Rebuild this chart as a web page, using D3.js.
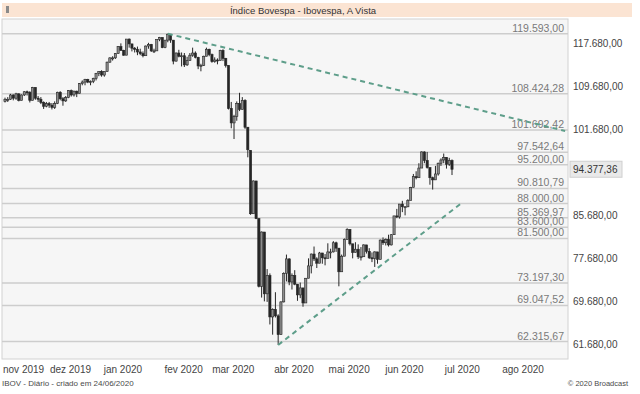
<!DOCTYPE html>
<html>
<head>
<meta charset="utf-8">
<script src="https://cdn.jsdelivr.net/npm/d3@7"></script>
<style>
  body { margin: 0; background: #ffffff; }
  text { font-family: "Liberation Sans", Arial, sans-serif; }
</style>
</head>
<body>
<svg id="chart" width="640" height="394"></svg>
<script>
// texts
var chartTitle = "Índice Bovespa - Ibovespa, A Vista";
var footerLeft = "IBOV - Diário - criado em 24/06/2020";
var footerRight = "© 2020 Broadcast";

// calendar of the axis (B3 trading days)
var firstDay = "2019-10-24";
var lastAxisDay = "2020-08-31";
var holidays = ["2019-11-15", "2019-11-20", "2019-12-24", "2019-12-25", "2019-12-31",
  "2020-01-01", "2020-02-24", "2020-02-25", "2020-04-10", "2020-04-21",
  "2020-05-01", "2020-06-11", "2020-07-09"];
var monthLabels = ["nov 2019", "dez 2019", "jan 2020", "fev 2020", "mar 2020",
  "abr 2020", "mai 2020", "jun 2020", "jul 2020", "ago 2020"];

// daily candles, thousands of points (24/10/2019 .. 24/06/2020)
var candleOpen = [107.0,107.4,107.4,108.2,107.6,108.4,107.2,108.2,108.8,108.7,107.2,109.6,107.6,107.4,106.8,106.1,106.6,106.3,105.9,106.6,
  108.7,107.5,107.1,107.7,109.0,108.2,108.9,108.5,110.3,110.6,111.1,110.6,110.7,111.3,112.2,112.6,111.9,112.6,114.3,115.1,
  115.1,115.9,117.2,116.5,115.6,118.6,117.7,116.9,116.7,116.2,115.9,115.5,117.3,117.6,116.4,116.4,118.5,118.9,117.0,118.4,
  119.5,118.4,114.5,116.0,115.4,115.5,113.8,114.6,115.6,116.0,115.2,113.6,113.7,115.4,116.7,115.7,114.4,114.7,114.6,116.5,
  115.0,113.7,105.7,103.0,104.2,106.6,105.5,107.2,102.2,97.9,86.1,92.2,85.2,72.6,82.7,71.2,74.6,66.9,68.3,67.1,
  63.6,69.7,75.0,77.7,73.4,74.6,73.0,71.0,72.3,69.5,74.1,76.4,78.6,77.7,76.9,78.8,77.9,77.8,79.0,79.0,
  80.7,79.7,75.3,78.2,81.3,83.2,80.5,78.9,79.5,78.1,78.1,80.3,79.1,77.9,77.8,79.0,77.6,81.2,80.7,81.3,
  80.3,82.2,85.7,85.5,87.9,87.4,87.4,88.6,91.0,93.0,92.8,94.6,97.6,96.0,94.7,92.8,92.4,93.5,95.5,96.1,
  96.6,95.3,96.0];
var candleHigh = [107.7,107.8,108.4,108.3,108.6,108.5,108.3,108.9,109.0,108.9,109.7,109.6,108.0,107.8,107.0,106.9,106.9,106.7,107.0,108.8,
  108.9,107.8,108.0,109.1,109.2,109.0,109.0,110.4,110.9,111.2,111.2,110.9,111.4,112.3,112.6,112.8,112.6,114.4,115.2,115.4,
  116.0,117.3,117.8,116.6,118.6,118.7,117.7,117.1,117.2,116.8,116.3,117.4,117.9,117.7,116.8,118.5,119.0,118.9,118.4,119.6,
  119.5,118.4,116.1,116.6,116.1,116.0,115.3,116.0,117.0,116.3,115.3,114.0,115.5,117.0,116.8,115.9,115.2,115.0,116.6,116.7,
  115.1,113.7,106.9,104.5,107.0,108.6,107.8,107.4,102.2,97.9,92.3,92.2,85.2,82.8,82.7,75.8,75.0,68.5,71.5,67.4,
  69.8,75.2,78.5,77.8,75.0,75.6,73.0,73.3,72.3,74.1,77.8,78.7,80.0,78.0,79.0,78.8,78.6,80.6,79.6,81.0,
  80.9,79.7,78.5,81.5,83.4,83.2,80.5,80.8,80.4,79.9,80.4,80.3,79.7,78.9,79.1,79.0,81.3,81.7,81.5,82.2,
  82.3,85.7,87.0,87.9,88.5,87.5,88.8,91.1,93.5,94.0,95.5,97.7,97.7,97.6,94.7,93.0,95.0,95.6,96.4,97.3,
  96.6,96.5,96.2];
var candleLow = [106.8,106.9,107.3,107.2,107.3,107.0,107.2,108.0,108.1,106.8,107.2,107.3,106.9,106.5,105.6,105.9,105.8,105.5,105.6,106.5,
  107.2,106.2,106.9,107.6,107.9,107.9,107.8,108.5,110.0,110.0,110.4,110.0,110.4,110.9,111.7,111.6,111.6,112.5,114.2,114.6,
  114.9,115.9,116.4,115.5,115.6,117.0,116.3,116.1,115.6,115.6,115.2,115.5,116.8,116.2,116.0,116.4,118.2,116.9,116.9,118.0,
  117.9,113.9,114.4,115.2,113.5,113.4,113.6,114.6,115.3,115.0,113.0,112.6,113.6,115.4,115.4,114.2,114.2,113.9,114.6,114.5,
  113.3,105.5,102.0,100.0,103.4,105.2,105.5,101.9,96.6,85.9,86.1,85.1,72.4,70.5,69.8,69.7,65.5,63.6,66.8,61.7,
  63.6,69.6,73.5,72.8,72.0,72.8,69.9,70.4,68.8,69.5,74.1,75.0,77.3,76.0,76.9,76.8,76.5,77.8,77.8,78.9,
  79.0,72.6,75.3,78.2,81.3,80.2,77.8,78.9,77.7,77.4,78.1,78.7,77.7,77.1,76.2,76.8,77.6,80.3,80.2,80.0,
  80.2,82.2,85.3,85.2,86.4,85.8,87.3,88.6,91.0,92.5,92.8,94.6,95.5,94.5,91.5,90.6,92.4,93.2,95.0,95.5,
  94.5,95.0,93.3];
var candleClose = [107.4,107.4,108.2,107.6,108.4,107.2,108.2,108.8,108.7,107.2,109.6,107.6,107.4,106.8,106.1,106.6,106.3,105.9,106.6,108.7,
  107.5,107.1,107.7,109.0,108.2,108.9,108.5,110.3,110.6,111.1,110.6,110.7,111.3,112.2,112.6,111.9,112.6,114.3,115.1,115.1,
  115.9,117.2,116.5,115.6,118.6,117.7,116.9,116.7,116.2,115.9,115.5,117.3,117.6,116.4,116.4,118.5,118.9,117.0,118.4,119.5,
  118.4,114.5,116.0,115.4,115.5,113.8,114.6,115.6,116.0,115.2,113.6,113.7,115.4,116.7,115.7,114.4,114.7,114.6,116.5,115.0,
  113.7,105.7,103.0,104.2,106.6,105.5,107.2,102.2,98.0,86.1,92.2,85.2,72.6,82.7,71.2,74.6,66.9,68.3,67.1,63.6,
  69.7,75.0,77.7,73.4,74.6,73.0,71.0,72.3,69.5,74.1,76.4,78.6,77.7,76.9,78.8,77.9,77.8,79.0,79.0,80.7,
  79.7,75.3,78.2,81.3,83.2,80.5,78.9,79.5,78.1,78.1,80.3,79.1,77.9,77.8,79.0,77.6,81.2,80.7,81.3,80.3,
  82.2,85.7,85.5,87.9,87.4,87.4,88.6,91.0,93.0,92.8,94.6,97.6,96.0,94.7,92.8,92.4,93.5,95.5,96.1,96.6,
  95.3,96.0,94.377];

// horizontal studies, right axis, last price
var levelValues = [119593, 108424.28, 101692.42, 97542.64, 95200, 90810.79, 88000,
  85369.97, 83600, 81500, 73197.30, 69047.52, 62315.67];
var axisTicks = [117680, 109680, 101680, 93680, 85680, 77680, 69680, 61680];
var lastPrice = 94377.36;

// trend lines: [date, points]
var upperTrend = [["2020-01-23", 119593], ["2020-08-21", 101500]];
var lowerTrend = [["2020-03-23", 61690], ["2020-06-30", 88300]];

/*
  NAME: buildTradingDays
  DESCRIPTION: list of weekdays between first and last axis day, without holidays
*/
function buildTradingDays() {
  var parse = d3.timeParse("%Y-%m-%d");
  var fmt = d3.timeFormat("%Y-%m-%d");
  var days = d3.timeDay.range(parse(firstDay), d3.timeDay.offset(parse(lastAxisDay), 1));
  return days.filter(function (d) {
    return d.getDay() != 0 && d.getDay() != 6 && holidays.indexOf(fmt(d)) < 0;
  }).map(fmt);
} // end function buildTradingDays

/*
  NAME: drawChart
  DESCRIPTION: draws frame, studies, candles and labels
*/
function drawChart() {
  var svg = d3.select("#chart");
  var tradingDays = buildTradingDays();
  var nCandles = candleClose.length;

  var x = d3.scaleLinear().domain([0, nCandles - 1]).range([5, 452]);
  var y = d3.scaleLinear().domain([59075, 122145]).range([359, 20]);
  var yk = function (v) { return y(v * 1000); };

  var ptBR = d3.formatLocale({ decimal: ",", thousands: ".", grouping: [3], currency: ["R$ ", ""] });
  var fmt = ptBR.format(",.2f");

  // title bar
  svg.append("rect")
    .attr("x", 2).attr("y", 3).attr("width", 630).attr("height", 14)
    .attr("fill", "#fbe4d3");
  svg.append("rect")
    .attr("x", 6).attr("y", 6).attr("width", 3).attr("height", 7)
    .attr("fill", "#8a8a8a");
  svg.append("text")
    .attr("x", 303).attr("y", 13.5)
    .attr("text-anchor", "middle")
    .attr("font-size", 9.5)
    .attr("fill", "#333")
    .text(chartTitle);

  // plot area
  svg.append("rect")
    .attr("x", 2).attr("y", 19).attr("width", 566).attr("height", 340)
    .attr("fill", "#f6f6f6")
    .attr("stroke", "#d2d2d2");

  // horizontal studies
  svg.append("g").selectAll("line")
    .data(levelValues)
    .join("line")
    .attr("x1", 2).attr("x2", 568)
    .attr("y1", function (d) { return y(d); })
    .attr("y2", function (d) { return y(d); })
    .attr("stroke", "#cdcdcd")
    .attr("stroke-width", 1.5);

  svg.append("g").selectAll("text")
    .data(levelValues)
    .join("text")
    .attr("x", 564)
    .attr("y", function (d) { return y(d) - 2; })
    .attr("text-anchor", "end")
    .attr("font-size", 10.5)
    .attr("fill", "#7a7a7a")
    .text(function (d) { return fmt(d); });

  // candles
  var idx = d3.range(nCandles);
  var gc = svg.append("g");
  gc.selectAll("line")
    .data(idx)
    .join("line")
    .attr("x1", function (i) { return x(i); })
    .attr("x2", function (i) { return x(i); })
    .attr("y1", function (i) { return yk(candleHigh[i]); })
    .attr("y2", function (i) { return yk(candleLow[i]); })
    .attr("stroke", "#262626")
    .attr("stroke-width", 1);

  gc.selectAll("rect")
    .data(idx)
    .join("rect")
    .attr("x", function (i) { return x(i) - 1.1; })
    .attr("width", 2.2)
    .attr("y", function (i) { return yk(Math.max(candleOpen[i], candleClose[i])); })
    .attr("height", function (i) {
      return Math.max(1, Math.abs(yk(candleOpen[i]) - yk(candleClose[i])));
    })
    .attr("fill", function (i) { return candleClose[i] >= candleOpen[i] ? "#8c8c8c" : "#262626"; })
    .attr("stroke", "#262626")
    .attr("stroke-width", 0.6);

  // trend lines
  [upperTrend, lowerTrend].forEach(function (t) {
    svg.append("line")
      .attr("x1", x(tradingDays.indexOf(t[0][0])))
      .attr("y1", y(t[0][1]))
      .attr("x2", x(tradingDays.indexOf(t[1][0])))
      .attr("y2", y(t[1][1]))
      .attr("stroke", "#5e9e8a")
      .attr("stroke-width", 2)
      .attr("stroke-dasharray", "5,4");
  });

  // right axis
  var shownTicks = axisTicks.filter(function (t) {
    return Math.abs(y(t) - y(lastPrice)) > 10;
  });
  svg.append("g").selectAll("text")
    .data(shownTicks)
    .join("text")
    .attr("x", 573)
    .attr("y", function (d) { return y(d) + 3.5; })
    .attr("font-size", 10)
    .attr("fill", "#444")
    .text(function (d) { return fmt(d); });

  svg.append("rect")
    .attr("x", 570).attr("y", y(lastPrice) - 8)
    .attr("width", 52).attr("height", 16)
    .attr("fill", "#e9e9e9")
    .attr("stroke", "#cfcfcf");
  svg.append("text")
    .attr("x", 573).attr("y", y(lastPrice) + 3.5)
    .attr("font-size", 10)
    .attr("fill", "#333")
    .text(fmt(lastPrice));

  // month labels at first trading day of each month, kept inside the left edge
  var monthStarts = [];
  tradingDays.forEach(function (d, i) {
    if (i > 0 && d.slice(0, 7) != tradingDays[i - 1].slice(0, 7)) monthStarts.push(i);
  });
  svg.append("g").selectAll("text")
    .data(monthLabels)
    .join("text")
    .attr("y", 373)
    .attr("text-anchor", "middle")
    .attr("font-size", 10)
    .attr("fill", "#444")
    .text(function (d) { return d; })
    .attr("x", function (d, i) {
      var half = this.getComputedTextLength() / 2;
      return Math.max(x(monthStarts[i]) - 3.5, 3 + half);
    });

  // footer
  svg.append("text")
    .attr("x", 2).attr("y", 386)
    .attr("font-size", 8)
    .attr("fill", "#4a4a4a")
    .text(footerLeft);
  svg.append("text")
    .attr("x", 628).attr("y", 386)
    .attr("text-anchor", "end")
    .attr("font-size", 7.5)
    .attr("fill", "#4a4a4a")
    .text(footerRight);

  return;
} // end function drawChart

drawChart();
</script>
</body>
</html>
